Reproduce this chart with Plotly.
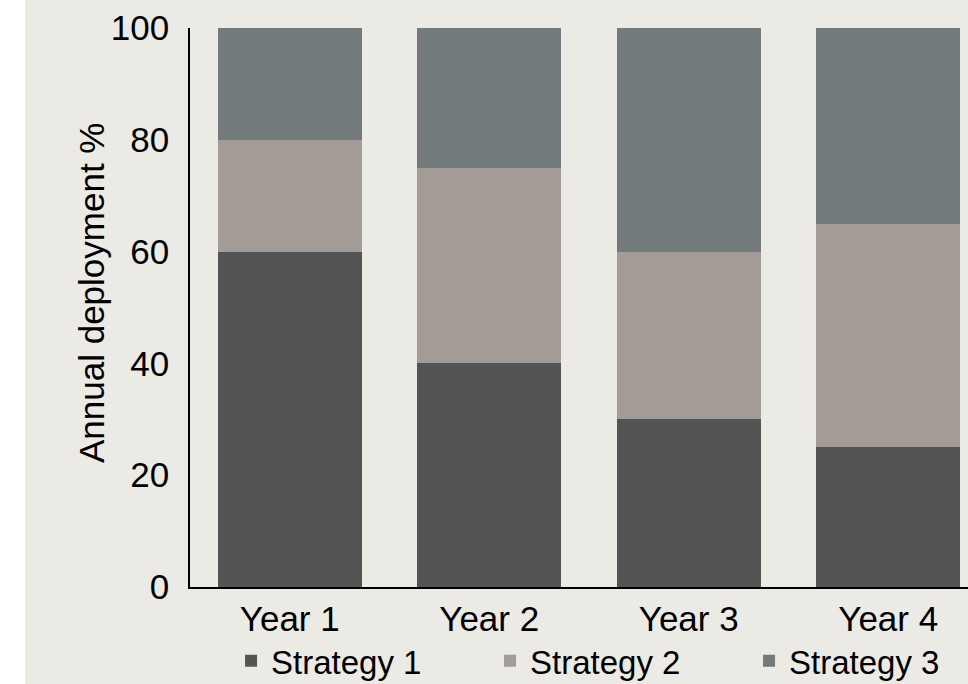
import plotly.graph_objects as go

years = ["Year 1", "Year 2", "Year 3", "Year 4"]
strategy_1 = [60, 40, 30, 25]
strategy_2 = [20, 35, 30, 40]
strategy_3 = [20, 25, 40, 35]
series_names = ["Strategy 1", "Strategy 2", "Strategy 3"]
y_ticks = [0, 20, 40, 60, 80, 100]
y_title = "Annual deployment %"

colors = ["#535554", "#A29B96", "#727A7C"]
bg = "#EBEAE5"
font_family = "Liberation Sans, Arial, sans-serif"

fig = go.Figure()
for name, vals, col in zip(series_names, [strategy_1, strategy_2, strategy_3], colors):
    fig.add_trace(go.Bar(x=years, y=vals, name=name, marker=dict(color=col, line=dict(width=0))))

fig.update_layout(
    width=943,
    height=684,
    barmode="stack",
    bargap=0.278,
    paper_bgcolor=bg,
    plot_bgcolor=bg,
    margin=dict(l=165, r=0, t=28, b=97, autoexpand=False),
    font=dict(family=font_family, color="#000000", size=35),
    showlegend=True,
    legend=dict(
        orientation="h",
        xref="container", yref="container",
        x=0.2185, xanchor="left",
        y=0.034, yanchor="middle",
        font=dict(size=33),
        entrywidth=214, entrywidthmode="pixels",
        bgcolor="rgba(0,0,0,0)",
        borderwidth=0,
        traceorder="normal",
    ),
    xaxis=dict(
        range=[-0.5, 3.4],
        showline=True, linecolor="#000000", linewidth=1.5,
        showgrid=False, zeroline=False,
        ticks="",
        tickfont=dict(size=35),
    ),
    yaxis=dict(
        range=[0, 100],
        tickvals=y_ticks,
        showline=True, linecolor="#000000", linewidth=1.5,
        showgrid=False, zeroline=False,
        ticks="outside", ticklen=12, tickcolor="rgba(0,0,0,0)",
        tickfont=dict(size=35),
    ),
    annotations=[dict(
        text=y_title, textangle=-90, showarrow=False,
        xref="paper", yref="paper",
        x=-0.1266, y=0.5268, xanchor="center", yanchor="middle",
        font=dict(size=35, family=font_family, color="#000000"),
    )],
)

fig.write_html("out.html", post_script="document.body.style.margin='0px 0px 0px 25px';")
